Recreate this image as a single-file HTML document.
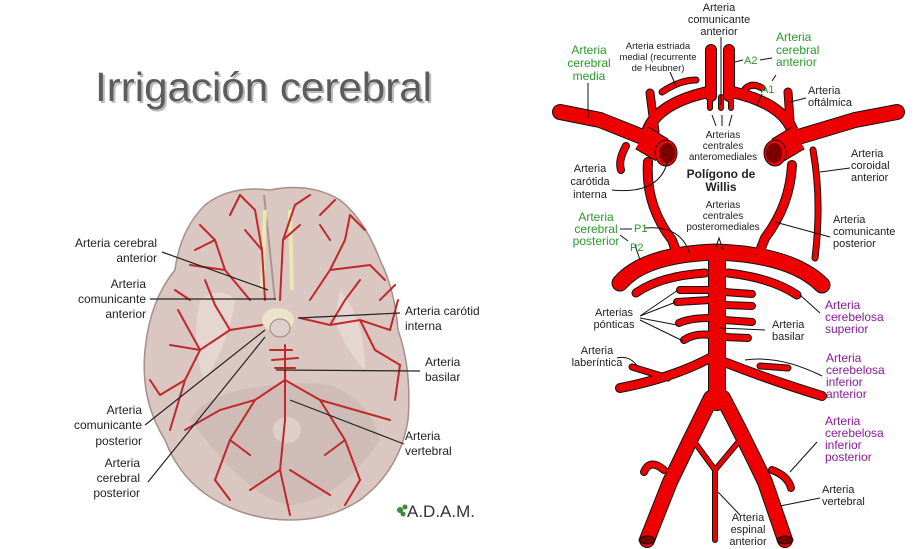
<!DOCTYPE html>
<html><head><meta charset="utf-8"><style>
html,body{margin:0;padding:0;background:#fff;}
svg{display:block;}
text{font-family:"Liberation Sans",sans-serif;}
.o{fill:none;stroke:#111;stroke-linecap:round;stroke-linejoin:round;}
.r{fill:none;stroke:#ee0000;stroke-linecap:round;stroke-linejoin:round;}
.l{fill:none;stroke:#111;stroke-width:1;}
.wl{fill:none;stroke:#222;stroke-width:1.2;}
.v{fill:none;stroke:#c0282a;stroke-width:2;stroke-linecap:round;}
</style></head><body>
<svg width="921" height="549" viewBox="0 0 921 549" xmlns="http://www.w3.org/2000/svg">
<defs>
<path id="mcaL" d="M560,112 L600,120 L645,138"/>
<path id="mcaR" d="M897,112 L855,120 L795,138"/>
<path id="icaL" d="M645,140 Q650,105 708,92"/>
<path id="icaR" d="M795,140 Q790,105 732,92"/>
<path id="a2L" d="M711,96 L711,50"/>
<path id="a2R" d="M729,96 L729,50"/>
<path id="heuL" d="M662,92 Q680,80 696,80"/>
<path id="heuR" d="M745,89 Q752,82 762,88"/>
<path id="ophL" d="M650,93 L655,132"/>
<path id="ophR" d="M788,92 L791,135"/>
<path id="hookL" d="M626,146 Q618,160 621,170"/>
<path id="choR" d="M813,150 Q822,200 815,258"/>
<path id="pcomL" d="M648,162 Q645,205 672,240 L678,256"/>
<path id="pcomR" d="M792,165 Q790,205 765,238 L758,256"/>
<path id="pca" d="M620,283 Q645,254 717,252 Q792,255 822,285"/>
<path id="scaL" d="M636,293 Q660,276 705,273"/>
<path id="scaR" d="M797,295 Q772,278 728,273"/>
<path id="bas" d="M717,255 L717,402"/>
<path id="aicaL" d="M620,388 Q672,378 710,358"/>
<path id="labL" d="M632,367 L668,378"/>
<path id="aicaR" d="M822,396 Q770,380 724,362"/>
<path id="aicaR2" d="M760,366 L788,368"/>
<path id="vL" d="M711,398 Q690,440 670,482 L647,540"/>
<path id="vR" d="M723,398 Q745,440 765,482 L785,540"/>
<path id="picaL" d="M664,470 Q650,458 644,472"/>
<path id="picaR" d="M772,470 Q788,476 791,488"/>
</defs>

<text x="97" y="103" font-size="41" fill="#bbb" textLength="337" lengthAdjust="spacingAndGlyphs">Irrigación cerebral</text>
<text x="95" y="101" font-size="41" fill="#5c5c5c" textLength="337" lengthAdjust="spacingAndGlyphs">Irrigación cerebral</text>

<path d="M270,190 Q230,185 205,205 Q180,230 175,270 Q150,300 145,350 Q140,400 165,440 Q180,480 215,500 Q250,520 290,520 Q330,520 360,500 Q400,470 408,420 Q412,370 398,330 Q395,290 380,260 Q365,220 340,200 Q310,182 270,190 Z" fill="#dbc7c2" stroke="#a88e89" stroke-width="1.5"/>
<path d="M190,420 Q250,500 290,505 Q340,500 380,440 Q370,400 330,385 Q290,380 240,390 Q200,400 190,420 Z" fill="#d0bcb7"/>
<path d="M200,300 Q190,350 205,380 Q230,340 235,300 Q220,285 200,300 Z" fill="#e6d6d2"/>
<path d="M340,290 Q365,320 365,370 Q345,350 335,320 Z" fill="#e6d6d2"/>
<path d="M264,195 L275,300" stroke="#a99690" stroke-width="2" fill="none"/>
<path d="M265,210 L262,290 M290,210 L292,290" stroke="#eee6b0" stroke-width="4" fill="none"/>
<ellipse cx="278" cy="320" rx="16" ry="12" fill="#ece4c8"/>
<ellipse cx="280" cy="328" rx="10" ry="9" fill="#ddd0cc" stroke="#9c8883"/>
<ellipse cx="287" cy="430" rx="14" ry="13" fill="#ddd0cc"/>
<g class="v">
<path d="M265,300 L262,250 L255,210 M262,250 L245,230 M255,210 L240,195"/>
<path d="M280,300 L283,240 L295,205 M283,240 L300,225 M295,205 L310,195"/>
<path d="M262,325 L230,330 L200,350 L170,345 M230,330 L215,305 L205,280 M200,350 L185,380 L160,395"/>
<path d="M300,318 L330,325 L360,320 L390,330 M330,325 L345,300 L360,280 M360,320 L375,350 L400,365"/>
<path d="M250,300 L225,270 L215,240 L200,225 M225,270 L190,265"/>
<path d="M310,300 L330,270 L345,240 L350,215 M330,270 L370,265"/>
<path d="M285,345 L285,420 L280,470 L290,515 M285,380 L255,400 L230,440 L215,480 M285,380 L320,400 L345,440 L360,480"/>
<path d="M255,400 L220,410 L185,430 M320,400 L355,410 L390,420 M280,470 L250,490 M290,470 L330,495"/>
<path d="M270,350 L292,350 M272,360 L298,358 M275,368 L295,368"/>
<path d="M200,350 L178,310 M390,330 L398,300 M185,380 L170,430"/>
<path d="M240,195 L230,215 M215,240 L195,250 M350,215 L365,230 M370,265 L385,280 M160,395 L150,380 M400,365 L395,400 M215,480 L230,500 M360,480 L345,505 M230,440 L250,455 M345,440 L325,455"/>
<path d="M320,215 L335,200 M330,240 L320,225 M190,300 L175,290 M380,300 L395,285"/>
</g>
<g class="wl">
<path d="M162,252 L268,290"/><path d="M150,299 L276,299"/>
<path d="M400,313 L298,318"/><path d="M420,371 L276,370"/>
<path d="M145,425 L265,330"/><path d="M148,482 L265,337"/>
<path d="M404,444 L290,400"/>
</g>
<g font-size="12" fill="#222">
<text x="157" y="247" text-anchor="end">Arteria cerebral</text><text x="157" y="262" text-anchor="end">anterior</text>
<text x="146" y="288" text-anchor="end">Arteria</text><text x="146" y="303" text-anchor="end">comunicante</text><text x="146" y="318" text-anchor="end">anterior</text>
<text x="405" y="315">Arteria carótid</text><text x="405" y="330">interna</text>
<text x="425" y="366">Arteria</text><text x="425" y="381">basilar</text>
<text x="142" y="414" text-anchor="end">Arteria</text><text x="142" y="429" text-anchor="end">comunicante</text><text x="142" y="445" text-anchor="end">posterior</text>
<text x="140" y="467" text-anchor="end">Arteria</text><text x="140" y="482" text-anchor="end">cerebral</text><text x="140" y="497" text-anchor="end">posterior</text>
<text x="405" y="440">Arteria</text><text x="405" y="455">vertebral</text>
</g>
<text x="407" y="517" font-family="Liberation Serif,serif" font-size="17" fill="#333">A.D.A.M.</text>
<circle cx="400" cy="510" r="3" fill="#3a8a3a"/><circle cx="405" cy="507" r="2.5" fill="#3a8a3a"/><circle cx="403" cy="514" r="2.5" fill="#3a8a3a"/>

<g class="o">
<use href="#mcaL" stroke-width="16"/><use href="#mcaR" stroke-width="16"/>
<use href="#icaL" stroke-width="12"/><use href="#icaR" stroke-width="12"/>
<use href="#a2L" stroke-width="12"/><use href="#a2R" stroke-width="12"/>
<use href="#heuL" stroke-width="7"/><use href="#heuR" stroke-width="7"/>
<use href="#ophL" stroke-width="9"/><use href="#ophR" stroke-width="9"/>
<use href="#hookL" stroke-width="8"/><use href="#choR" stroke-width="7"/>
<use href="#pcomL" stroke-width="10"/><use href="#pcomR" stroke-width="10"/>
<use href="#pca" stroke-width="17"/>
<use href="#scaL" stroke-width="9"/><use href="#scaR" stroke-width="9"/>
<use href="#bas" stroke-width="18"/>
<use href="#aicaL" stroke-width="10"/><use href="#labL" stroke-width="7"/>
<use href="#aicaR" stroke-width="10"/><use href="#aicaR2" stroke-width="7"/>
<use href="#vL" stroke-width="16"/><use href="#vR" stroke-width="16"/>
<use href="#picaL" stroke-width="8"/><use href="#picaR" stroke-width="8"/>
<path d="M693,440 L715,470 L740,440 M715,470 L715,540" stroke-width="6"/>
<path d="M680,290 L710,290 M677,302 L710,300 M679,323 Q690,318 710,318 M684,340 Q695,333 710,335 M724,292 L752,294 M724,305 L752,306 M724,320 L752,322 M724,337 L748,338" stroke-width="8"/>
<path d="M710,97 L710,108 M721,97 L721,108 M731,97 L731,108" stroke-width="6"/>
</g>
<g class="r">
<use href="#mcaL" stroke-width="14"/><use href="#mcaR" stroke-width="14"/>
<use href="#icaL" stroke-width="10"/><use href="#icaR" stroke-width="10"/>
<use href="#a2L" stroke-width="10"/><use href="#a2R" stroke-width="10"/>
<use href="#heuL" stroke-width="5"/><use href="#heuR" stroke-width="5"/>
<use href="#ophL" stroke-width="7"/><use href="#ophR" stroke-width="7"/>
<use href="#hookL" stroke-width="6"/><use href="#choR" stroke-width="5"/>
<use href="#pcomL" stroke-width="8"/><use href="#pcomR" stroke-width="8"/>
<use href="#pca" stroke-width="15"/>
<use href="#scaL" stroke-width="7"/><use href="#scaR" stroke-width="7"/>
<use href="#bas" stroke-width="16"/>
<use href="#aicaL" stroke-width="8"/><use href="#labL" stroke-width="5"/>
<use href="#aicaR" stroke-width="8"/><use href="#aicaR2" stroke-width="5"/>
<use href="#vL" stroke-width="14"/><use href="#vR" stroke-width="14"/>
<use href="#picaL" stroke-width="6"/><use href="#picaR" stroke-width="6"/>
<path d="M693,440 L715,470 L740,440 M715,470 L715,540" stroke-width="4"/>
<path d="M680,290 L710,290 M677,302 L710,300 M679,323 Q690,318 710,318 M684,340 Q695,333 710,335 M724,292 L752,294 M724,305 L752,306 M724,320 L752,322 M724,337 L748,338" stroke-width="6"/>
<path d="M710,97 L710,108 M721,97 L721,108 M731,97 L731,108" stroke-width="4"/>
</g>
<path d="M642,138 L662,150" stroke="#111" stroke-width="26" stroke-linecap="butt"/>
<path d="M642,138 L662,150" stroke="#ee0000" stroke-width="24" stroke-linecap="butt"/>
<ellipse cx="666" cy="153" rx="11" ry="13" fill="#ee0000" stroke="#111"/>
<ellipse cx="667" cy="153" rx="8" ry="10" fill="#7a0000"/>
<path d="M798,138 L778,150" stroke="#111" stroke-width="26" stroke-linecap="butt"/>
<path d="M798,138 L778,150" stroke="#ee0000" stroke-width="24" stroke-linecap="butt"/>
<ellipse cx="775" cy="153" rx="11" ry="13" fill="#ee0000" stroke="#111"/>
<ellipse cx="774" cy="153" rx="8" ry="10" fill="#7a0000"/>
<ellipse cx="647" cy="540" rx="8" ry="4" fill="#7a0000" stroke="#111"/>
<ellipse cx="785" cy="540" rx="8" ry="4" fill="#7a0000" stroke="#111"/>

<g class="l">
<path d="M721,37 L721,105"/><path d="M670,72 L676,86"/>
<path d="M760,60 L772,58"/><path d="M735,62 L743,60"/>
<path d="M776,75 L772,81"/><path d="M762,94 L757,105"/>
<path d="M588,83 L588,118"/><path d="M806,98 L790,102"/>
<path d="M712,115 L716,126 M722,115 L722,126 M732,115 L729,126"/>
<path d="M612,190 Q660,195 668,160"/>
<path d="M850,168 L820,172"/>
<path d="M715,250 L719,238 L723,250"/>
<path d="M830,237 L775,222"/>
<path d="M620,229 L632,229 M620,235 L628,241 M645,228 Q682,225 690,255"/>
<path d="M635,245 L640,260"/>
<path d="M640,316 L678,290 M640,316 L676,302 M640,318 L677,325 M640,320 L683,341"/>
<path d="M765,330 L720,328"/>
<path d="M617,358 Q630,355 638,367"/>
<path d="M820,313 L800,295"/>
<path d="M822,376 Q780,355 745,360"/>
<path d="M817,442 L790,472"/>
<path d="M820,498 L780,506"/>
<path d="M740,515 L718,492"/>
</g>

<g font-size="11" fill="#222" text-anchor="middle">
<text x="719" y="11">Arteria</text><text x="719" y="23">comunicante</text><text x="719" y="35">anterior</text>
<text x="658" y="49" font-size="9.5">Arteria estriada</text><text x="658" y="60" font-size="9.5">medial (recurrente</text><text x="658" y="71" font-size="9.5">de Heubner)</text>
<text x="723" y="138" font-size="10">Arterias</text><text x="723" y="149" font-size="10">centrales</text><text x="723" y="160" font-size="10">anteromediales</text>
<text x="721" y="178" font-size="12" font-weight="bold">Polígono de</text><text x="721" y="191" font-size="12" font-weight="bold">Willis</text>
<text x="590" y="172">Arteria</text><text x="590" y="185">carótida</text><text x="590" y="198">interna</text>
<text x="723" y="208" font-size="10">Arterias</text><text x="723" y="219" font-size="10">centrales</text><text x="723" y="230" font-size="10">posteromediales</text>
<text x="614" y="316">Arterias</text><text x="614" y="328">pónticas</text>
<text x="597" y="354">Arteria</text><text x="597" y="366">laberíntica</text>
<text x="748" y="521">Arteria</text><text x="748" y="533">espinal</text><text x="748" y="545">anterior</text>
</g>
<g font-size="11" fill="#222">
<text x="808" y="94">Arteria</text><text x="808" y="106">oftálmica</text>
<text x="851" y="157">Arteria</text><text x="851" y="169">coroidal</text><text x="851" y="181">anterior</text>
<text x="833" y="223">Arteria</text><text x="833" y="235">comunicante</text><text x="833" y="247">posterior</text>
<text x="772" y="328">Arteria</text><text x="772" y="340">basilar</text>
<text x="822" y="493">Arteria</text><text x="822" y="505">vertebral</text>
</g>
<g font-size="12" fill="#2b9a2b">
<text x="589" y="54" text-anchor="middle">Arteria</text><text x="589" y="67" text-anchor="middle">cerebral</text><text x="589" y="80" text-anchor="middle">media</text>
<text x="776" y="41">Arteria</text><text x="776" y="54">cerebral</text><text x="776" y="66">anterior</text>
<text x="744" y="64" font-size="11">A2</text><text x="761" y="93" font-size="11">A1</text>
<text x="596" y="221" text-anchor="middle">Arteria</text><text x="596" y="233" text-anchor="middle">cerebral</text><text x="596" y="245" text-anchor="middle">posterior</text>
<text x="634" y="232" font-size="11">P1</text><text x="630" y="251" font-size="11">P2</text>
</g>
<g font-size="12" fill="#8b1a9b">
<text x="825" y="309">Arteria</text><text x="825" y="321">cerebelosa</text><text x="825" y="333">superior</text>
<text x="826" y="362">Arteria</text><text x="826" y="374">cerebelosa</text><text x="826" y="386">inferior</text><text x="826" y="398">anterior</text>
<text x="825" y="425">Arteria</text><text x="825" y="437">cerebelosa</text><text x="825" y="449">inferior</text><text x="825" y="461">posterior</text>
</g>
</svg>
</body></html>
